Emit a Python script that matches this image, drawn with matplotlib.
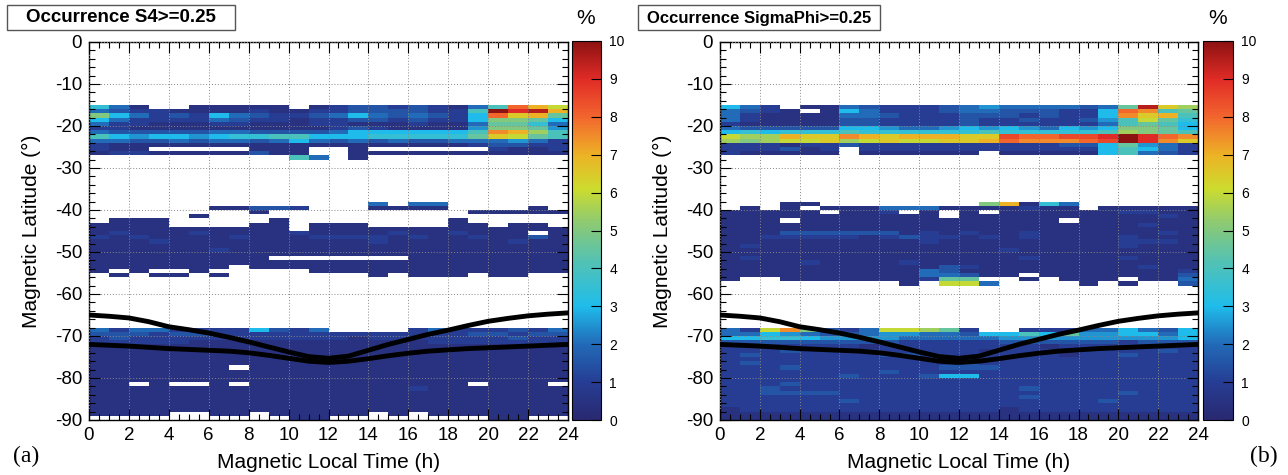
import numpy as np
import matplotlib
matplotlib.use("Agg")
import matplotlib.pyplot as plt
from matplotlib.colors import LinearSegmentedColormap
from matplotlib.patches import Rectangle
from matplotlib.ticker import MultipleLocator

plt.rcParams['font.family'] = ['Liberation Sans', 'DejaVu Sans']
plt.rcParams['axes.unicode_minus'] = False

# Occurrence (%) per 1 h MLT x 1 deg MLat bin.
# Each row = one latitude bin (row k spans -k .. -(k+1) deg), 24 hour columns,
# written in 4 groups of 6 hours. Code: index in LEVEL_CODES / 2 = percent, '.' = no data.
LEVEL_CODES = "0123456789ABCDEFGHIJK"

S4_UPPER_START = 15
S4_UPPER = [
    "741..1 1111.1 233232 148GEC",
    "432211 112112 233332 28KIJE",
    "A64232 643223 464343 26GDE9",
    "642222 432212 233232 26AA96",
    "422111 221112 211121 149974",
    "221111 111111 232111 15AA95",
    "433333 443333 466666 68FEB8",
    "865665 677886 667777 79DC98",
    "443343 443464 343433 444542",
    "211111 111111 111111 123322",
    "211... ..111. .1.... ..2112",
    "122111 11311. .11111 111111",
    "...... ....84 .1.... ......",
]

S4_MID_START = 38
S4_MID = [
    "...... ...... ..4.44 ......",
    "...... 11332. ..1111 ....1.",
    "...... ..1... ...... .11111",
    ".....1 ...... ...... ......",
    ".111.. ...1.. ...... 1.....",
    "1111.. ..11.1 11.... 11.11.",
    "111111 1111.1 111111 111111",
    "121112 111121 111211 2111.1",
    "212111 121112 222121 121131",
    "111211 111111 112111 111211",
    "111111 111111 111111 111111",
    "111111 211111 111111 111111",
    "111111 111111 111111 111111",
    "111111 111... ....11 111111",
    "111111 111111 111111 111111",
    "111111 1.1111 111111 111111",
    "1.1..1 .....1 111111 111111",
    ".1.11. 1..... ..1.11 1.11..",
]

S4_LOW_START = 68
S4_LOW = [
    "424422 226324 ....24 222324",
    "333233 222222 222222 233233",
    "232222 222222 212222 222322",
    "222221 111111 111112 222222",
    "111111 111111 111111 111111",
    "111111 111111 111111 111111",
    "111111 111111 111111 111111",
    "111111 111111 111111 111111",
    "111111 111111 111111 111111",
    "111111 1.1111 111111 111111",
    "111111 111111 111111 111111",
    "111111 111111 111111 111111",
    "111111 111111 111111 111111",
    "11.1.. 1.1111 111111 1.111.",
    "111111 111111 111121 111111",
    "111111 111111 111111 111111",
    "111111 111111 111111 111111",
    "111111 111111 111111 111111",
    "111111 111111 111111 111111",
    "111111 111111 111111 111111",
    "1111.. 11.111 11.1.1 111111",
    "...... ....11 ...... ..11..",
]

SP_UPPER_START = 15
SP_UPPER = [
    "642.11 432223 454444 349JDB",
    "4321.1 642223 443332 26GF89",
    "421111 443222 333232 26FDE8",
    "421111 332222 322322 358C97",
    "211111 332222 322222 248986",
    "433333 665445 656546 56AA96",
    "676777 877777 787777 78BA98",
    "CBBEDD FEDEEE DDHGGH HIKIGF",
    "BABCCD BCDCCD DEGFFF GHKIFD",
    "222122 322222 222223 369542",
    "222312 .22222 222222 268642",
    "211111 .11111 1.1111 168432",
]

SP_MID_START = 38
SP_MID = [
    "...11. ...... .AE174 ......",
    ".1.1.1 114441 111211 .11111",
    "11111. 112.1. 1.1111 112211",
    "111111 11111. 111111 111121",
    "111.11 111111 11111. 111111",
    "111111 111111 111111 111211",
    "111111 111111 111111 111111",
    "111333 333121 211211 111121",
    "112222 212322 121211 112111",
    "111111 111121 111111 112221",
    "121111 111111 111111 112111",
    "111111 111111 112111 111111",
    "111111 111111 111111 111111",
    "121111 111111 111211 112111",
    "111121 111211 111111 111111",
    "111111 111113 211111 111211",
    "111111 111143 111111 111112",
    "111111 111144 311.11 111113",
    "1..111 111129 9..1.1 11.114",
    "...... ...1.C C4.... 1.1..3",
]

SP_LOW_START = 68
SP_LOW = [
    "42CFA3 24CCB9 2..222 446436",
    "446543 345544 366869 556646",
    "667765 555444 445555 555556",
    "333333 333222 223333 332333",
    "221222 212222 222212 222222",
    "222322 222222 212222 222232",
    "232222 223322 222221 223222",
    "222222 222232 222222 222222",
    "232222 222222 322222 222222",
    "222322 222223 332222 222222",
    "222222 223222 222222 222222",
    "222222 322236 622222 222222",
    "222222 222222 222222 222222",
    "222322 222222 222222 222222",
    "223222 222222 222322 222222",
    "223333 222222 222222 223222",
    "222222 222222 222322 222222",
    "222222 322222 222222 232222",
    "222222 222222 222222 222222",
    "122222 222222 221222 222222",
    "111111 111111 111111 111111",
    "111111 111111 111111 111111",
]

# auroral oval boundaries (deg MLat) vs MLT
CURVE_MLT = list(range(25))
CURVE_UPPER = [-65.0, -65.3, -65.7, -66.6, -67.8, -68.5, -69.3, -70.3, -71.4, -72.6,
               -73.8, -74.9, -75.3, -74.8, -73.4, -72.0, -70.8, -69.6, -68.6, -67.5,
               -66.5, -65.8, -65.2, -64.8, -64.5]
CURVE_LOWER = [-72.0, -72.2, -72.4, -72.7, -73.0, -73.2, -73.4, -73.6, -74.0, -74.6,
               -75.3, -76.0, -76.3, -76.0, -75.4, -74.7, -74.1, -73.6, -73.3, -73.0,
               -72.8, -72.6, -72.4, -72.2, -72.0]

TITLES = ["Occurrence S4>=0.25", "Occurrence SigmaPhi>=0.25"]
PANEL_TAGS = ["(a)", "(b)"]


def decode(blocks):
    grid = np.full((90, 24), np.nan)
    for start, rows in blocks:
        for i, row in enumerate(rows):
            row = row.replace(" ", "")
            for j, ch in enumerate(row):
                if ch != ".":
                    grid[start + i, j] = LEVEL_CODES.index(ch) / 2.0
    return grid


s4_grid = decode([(S4_UPPER_START, S4_UPPER), (S4_MID_START, S4_MID), (S4_LOW_START, S4_LOW)])
sp_grid = decode([(SP_UPPER_START, SP_UPPER), (SP_MID_START, SP_MID), (SP_LOW_START, SP_LOW)])

# ROOT-like palette
palette = [
    (0.00, (0.16, 0.16, 0.44)),
    (0.10, (0.15, 0.24, 0.58)),
    (0.20, (0.13, 0.42, 0.72)),
    (0.30, (0.12, 0.74, 0.92)),
    (0.42, (0.33, 0.76, 0.70)),
    (0.52, (0.55, 0.79, 0.45)),
    (0.61, (0.80, 0.86, 0.18)),
    (0.70, (0.93, 0.70, 0.15)),
    (0.80, (0.95, 0.40, 0.18)),
    (0.90, (0.88, 0.17, 0.15)),
    (1.00, (0.55, 0.07, 0.07)),
]
cmap = LinearSegmentedColormap.from_list("root", palette)
cmap.set_bad("white")

W, H = 1288, 475
fig = plt.figure(figsize=(W / 100, H / 100), dpi=100)


def fx(px):
    return px / W


def fy(py):
    return 1 - py / H


panels = [
    dict(grid=s4_grid, ax=(89, 568), cb=(572, 601), box=(7, 235), title_size=13.5, pct=586, tag=26),
    dict(grid=sp_grid, ax=(720, 1198), cb=(1203, 1233), box=(638, 880), title_size=12, pct=1218, tag=1264),
]

x_edges = np.arange(0, 25)
y_edges = -np.arange(0, 91)

for k, p in enumerate(panels):
    x0, x1 = p['ax']
    ax = fig.add_axes([fx(x0), fy(420), fx(x1 - x0), fy(42) - fy(420)])
    mesh = ax.pcolormesh(x_edges, y_edges, np.ma.masked_invalid(p['grid']),
                         cmap=cmap, vmin=0, vmax=10, zorder=1)
    ax.plot(CURVE_MLT, CURVE_UPPER, color='black', lw=3.5, zorder=4)
    ax.plot(CURVE_MLT, CURVE_LOWER, color='black', lw=3.5, zorder=4)

    ax.set_xlim(0, 24)
    ax.set_ylim(-90, 0)
    ax.xaxis.set_major_locator(MultipleLocator(2))
    ax.xaxis.set_minor_locator(MultipleLocator(0.5))
    ax.yaxis.set_major_locator(MultipleLocator(10))
    ax.yaxis.set_minor_locator(MultipleLocator(2))
    ax.tick_params(which='both', direction='in', top=True, right=True, labelsize=13.5)
    ax.tick_params(which='major', length=8, width=0.8)
    ax.tick_params(which='minor', length=4, width=0.8)
    ax.tick_params(axis='x', pad=5)
    ax.tick_params(axis='y', pad=5)
    ax.grid(True, which='major', color='#888888', linestyle=(0, (1, 2)), lw=0.7, zorder=3)
    ax.set_axisbelow(False)
    for s in ax.spines.values():
        s.set_linewidth(1.0)

    # colorbar
    c0, c1 = p['cb']
    cax = fig.add_axes([fx(c0), fy(420), fx(c1 - c0), fy(41) - fy(420)])
    cb = fig.colorbar(mesh, cax=cax, ticks=range(0, 11))
    cb.ax.tick_params(direction='in', length=7, width=0.8, labelsize=10, pad=6)
    cb.outline.set_linewidth(0.8)

    # axis titles
    fig.text(fx((x0 + x1) / 2), fy(462), "Magnetic Local Time (h)", ha='center', va='center', fontsize=15)
    fig.text(fx(x0 - 58), fy(231), "Magnetic Latitude (\u00b0)", ha='center', va='center',
             rotation=90, fontsize=15)

    # title box
    b0, b1 = p['box']
    fig.patches.append(Rectangle((fx(b0), fy(30)), fx(b1 - b0), fy(5) - fy(30),
                                 transform=fig.transFigure, facecolor='white',
                                 edgecolor='#555555', lw=1.0))
    fig.text(fx((b0 + b1) / 2), fy(18), TITLES[k], ha='center', va='center',
             fontsize=p['title_size'], fontweight='bold')

    fig.text(fx(p['pct']), fy(19), "%", ha='center', va='center', fontsize=15)
    fig.text(fx(p['tag']), fy(456), PANEL_TAGS[k], ha='center', va='center',
             fontsize=17, family=['Liberation Serif', 'DejaVu Serif'])

fig.savefig("out.png", dpi=100)
